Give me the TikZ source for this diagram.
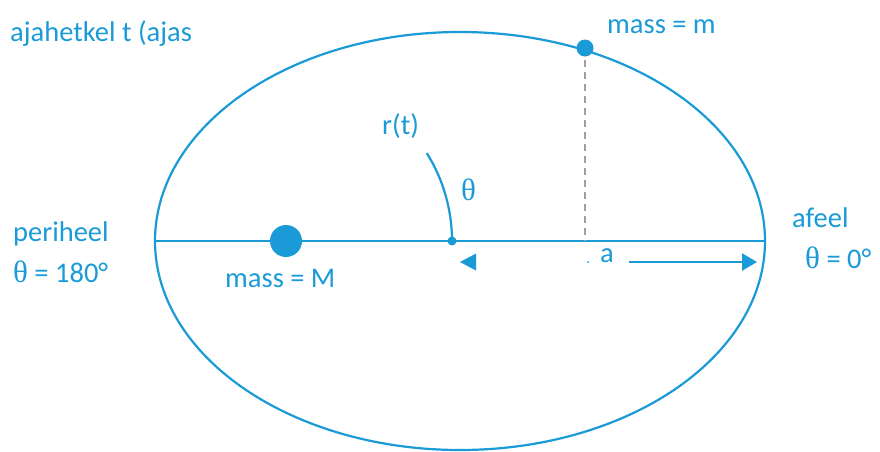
\documentclass[tikz,border=0pt]{standalone}
\usepackage{fontspec}
\setmainfont{Carlito}
\newfontfamily\thfont{Liberation Serif}
\usetikzlibrary{arrows.meta}
\definecolor{orb}{HTML}{1A9AD7}
\definecolor{dash}{HTML}{A0A0A0}
\tikzset{
  lbl/.style={anchor=base west, inner sep=0pt, text=orb, font=\fontsize{28.5}{32}\selectfont},
  orbit/.style={draw=orb, line width=2.2pt},
  tipA/.style={-{Triangle[length=15pt,width=17pt]}, draw=orb, fill=orb, line width=2.2pt}
}
\newcommand{\thsym}{{\thfont\fontsize{31}{32}\selectfont θ}}
\begin{document}
\begin{tikzpicture}[x=1pt,y=-1pt]
\useasboundingbox (0,0) rectangle (880,451);
% geometry
\coordinate (C) at (452,241);
\coordinate (L) at (155,241);
\coordinate (R) at (765,241);
\coordinate (mtop) at (585,48);
\coordinate (mfoot) at (585,241);
\coordinate (Mpos) at (286,241);
% orbit
\draw[orbit] (460,241) ellipse [x radius=305, y radius=209];
\draw[orbit] (L) -- (R);
% dashed projection
\draw[draw=dash, line width=1.6pt, dash pattern=on 7pt off 5pt] (mtop) -- (mfoot);
% r(t) arc centred on big mass
\draw[orbit] (C) arc[start angle=0, end angle=-32, radius=166];
% masses
\node[circle, fill=orb, minimum size=32pt, inner sep=0pt] (M) at (Mpos) {};
\node[circle, fill=orb, minimum size=17pt, inner sep=0pt] (m) at (mtop) {};
\node[circle, fill=orb, minimum size=9pt, inner sep=0pt] (c) at (C) {};
% semi-major axis arrows
\coordinate (lb) at (460,262);
\coordinate (ra) at (629,262);
\coordinate (rb) at (757,262);
\fill[orb] (lb) -- ++(16,-8.5) -- ++(0,17) -- cycle;
\draw[tipA] (ra) -- (rb);
\fill[orb] (588,262) circle (1pt);
% labels
\node[lbl] (tl) at (10,41) {ajahetkel t (ajas};
\node[lbl] (lm) at (607,33) {mass = m};
\node[lbl] (lr) at (382,134) {r(t)};
\node[lbl] (lth) at (461,200) {\thsym};
\node[lbl] (lper) at (13,241) {periheel};
\node[lbl] (lper2) at (13,282) {\thsym{} = 180°};
\node[lbl] (lap) at (792,227) {afeel};
\node[lbl] (lap2) at (805,268) {\thsym{} = 0°};
\node[lbl] (lM) at (225,287) {mass = M};
\node[lbl] (la) at (600,262) {a};
\end{tikzpicture}
\end{document}
